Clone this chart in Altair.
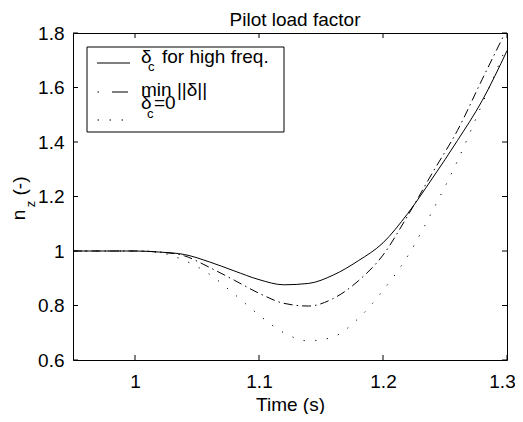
import altair as alt
import pandas as pd

# ---- data ----
time = [0.95, 1.0, 1.02, 1.04, 1.06, 1.08, 1.10, 1.12, 1.14, 1.16, 1.18, 1.20, 1.22, 1.24, 1.26, 1.28, 1.30]
n_high = [1.0, 1.0, 0.996, 0.987, 0.960, 0.927, 0.895, 0.876, 0.881, 0.912, 0.964, 1.030, 1.138, 1.268, 1.405, 1.552, 1.735]
n_min = [1.0, 1.0, 0.996, 0.982, 0.940, 0.893, 0.845, 0.808, 0.798, 0.826, 0.890, 0.985, 1.130, 1.288, 1.442, 1.630, 1.815]
n_zero = [1.0, 1.0, 0.994, 0.965, 0.915, 0.842, 0.765, 0.700, 0.670, 0.685, 0.752, 0.855, 0.982, 1.148, 1.330, 1.540, 1.755]

x_ticks = [1.0, 1.1, 1.2, 1.3]
y_ticks = [0.6, 0.8, 1.0, 1.2, 1.4, 1.6, 1.8]

title_text = "Pilot load factor"
x_title = "Time (s)"
y_title_parts = ["n", "z", "(-)"]
legend_parts = [["δ", "c", "for high freq."], ["min ||δ||"], ["δ", "c", "=0"]]

FONT = "Liberation Sans"
FS = 19
SUB = 13
W, H = 434, 327

xs = alt.Scale(domain=[0.95, 1.3], nice=False, zero=False)
ys = alt.Scale(domain=[0.6, 1.8], nice=False, zero=False)

x_axis = alt.Axis(values=x_ticks, format="~g", tickSize=0, ticks=False, domain=False, grid=False,
                  labelFont=FONT, labelFontSize=FS, labelColor="black", labelPadding=12,
                  labelFlush=False, labelOverlap=False,
                  labelOffset={"condition": {"test": "datum.value >= 1.29", "value": -5}, "value": 0},
                  title=x_title, titleFont=FONT,
                  titleFontSize=FS, titleFontWeight="normal", titleColor="black",
                  titleY=50, titleBaseline="alphabetic")
y_axis = alt.Axis(values=y_ticks, format="~g", tickSize=0, ticks=False, domain=False, grid=False,
                  labelFont=FONT, labelFontSize=FS, labelColor="black", labelPadding=9,
                  labelFlush=False, labelOverlap=False, title="")


def X(field):
    return alt.X(field, scale=xs, axis=x_axis)


def Y(field):
    return alt.Y(field, scale=ys, axis=y_axis)


def series(vals, dash):
    df = pd.DataFrame({"t": time, "n": vals})
    kw = dict(color="black", strokeWidth=1, clip=True, interpolate="monotone")
    if dash:
        kw["strokeDash"] = dash
    return alt.Chart(df).mark_line(**kw).encode(x=X("t:Q"), y=Y("n:Q"))


one = pd.DataFrame({"a": [0]})


def txt(s, x, y, size=FS, angle=0, align="left"):
    return alt.Chart(one).mark_text(text=s, font=FONT, fontSize=size, color="black",
                                    align=align, baseline="alphabetic", angle=angle).encode(
        x=alt.value(x), y=alt.value(y))


def hrule(x1, x2, y, dash=None):
    kw = dict(color="black", strokeWidth=1)
    if dash:
        kw["strokeDash"] = dash
    return alt.Chart(one).mark_rule(**kw).encode(x=alt.value(x1), x2=alt.value(x2), y=alt.value(y))


xt = pd.DataFrame({"t": x_ticks})
yt = pd.DataFrame({"n": y_ticks})
tick_b = alt.Chart(xt).mark_rule(color="black").encode(
    x=X("t:Q"), y=alt.value(H), y2=alt.value(H - 5))
tick_t = alt.Chart(xt).mark_rule(color="black").encode(
    x=X("t:Q"), y=alt.value(0), y2=alt.value(5))
tick_l = alt.Chart(yt).mark_rule(color="black").encode(
    y=Y("n:Q"), x=alt.value(0), x2=alt.value(5))
tick_r = alt.Chart(yt).mark_rule(color="black").encode(
    y=Y("n:Q"), x=alt.value(W), x2=alt.value(W - 5))

legend_box = alt.Chart(one).mark_rect(fill="white", stroke="black", strokeWidth=1).encode(
    x=alt.value(14), x2=alt.value(211), y=alt.value(14), y2=alt.value(99))

layers = [
    series(n_high, None),
    series(n_min, [9, 4, 1.5, 4]),
    series(n_zero, [1.2, 10.5]),
    tick_b, tick_t, tick_l, tick_r,
    legend_box,
    hrule(24, 57, 30),
    hrule(24.5, 26, 59), hrule(39, 55, 59),
    hrule(24.5, 51, 87, [1.5, 10.5]),
    txt(legend_parts[0][0], 68, 30), txt(legend_parts[0][1], 75, 38, size=SUB),
    txt(legend_parts[0][2], 89, 30),
    txt(legend_parts[1][0], 68, 63),
    txt(legend_parts[2][0], 68, 76), txt(legend_parts[2][1], 74, 85, size=SUB),
    txt(legend_parts[2][2], 81, 76),
    txt(title_text, 222, -7, size=19, align="center"),
    txt(y_title_parts[0], -48, 182, angle=270, align="center"),
    txt(y_title_parts[1], -38.5, 171, size=SUB, angle=270, align="center"),
    txt(y_title_parts[2], -47, 153, angle=270, align="center"),
]

chart = alt.layer(*layers).properties(
    width=W, height=H,
    autosize=alt.AutoSizeParams(type="none"),
    padding={"left": 65, "top": 25, "right": 8, "bottom": 54},
    background="white",
).configure_view(stroke="black", strokeWidth=1)

chart.save("out.html", embed_options={"renderer": "svg", "actions": False})
